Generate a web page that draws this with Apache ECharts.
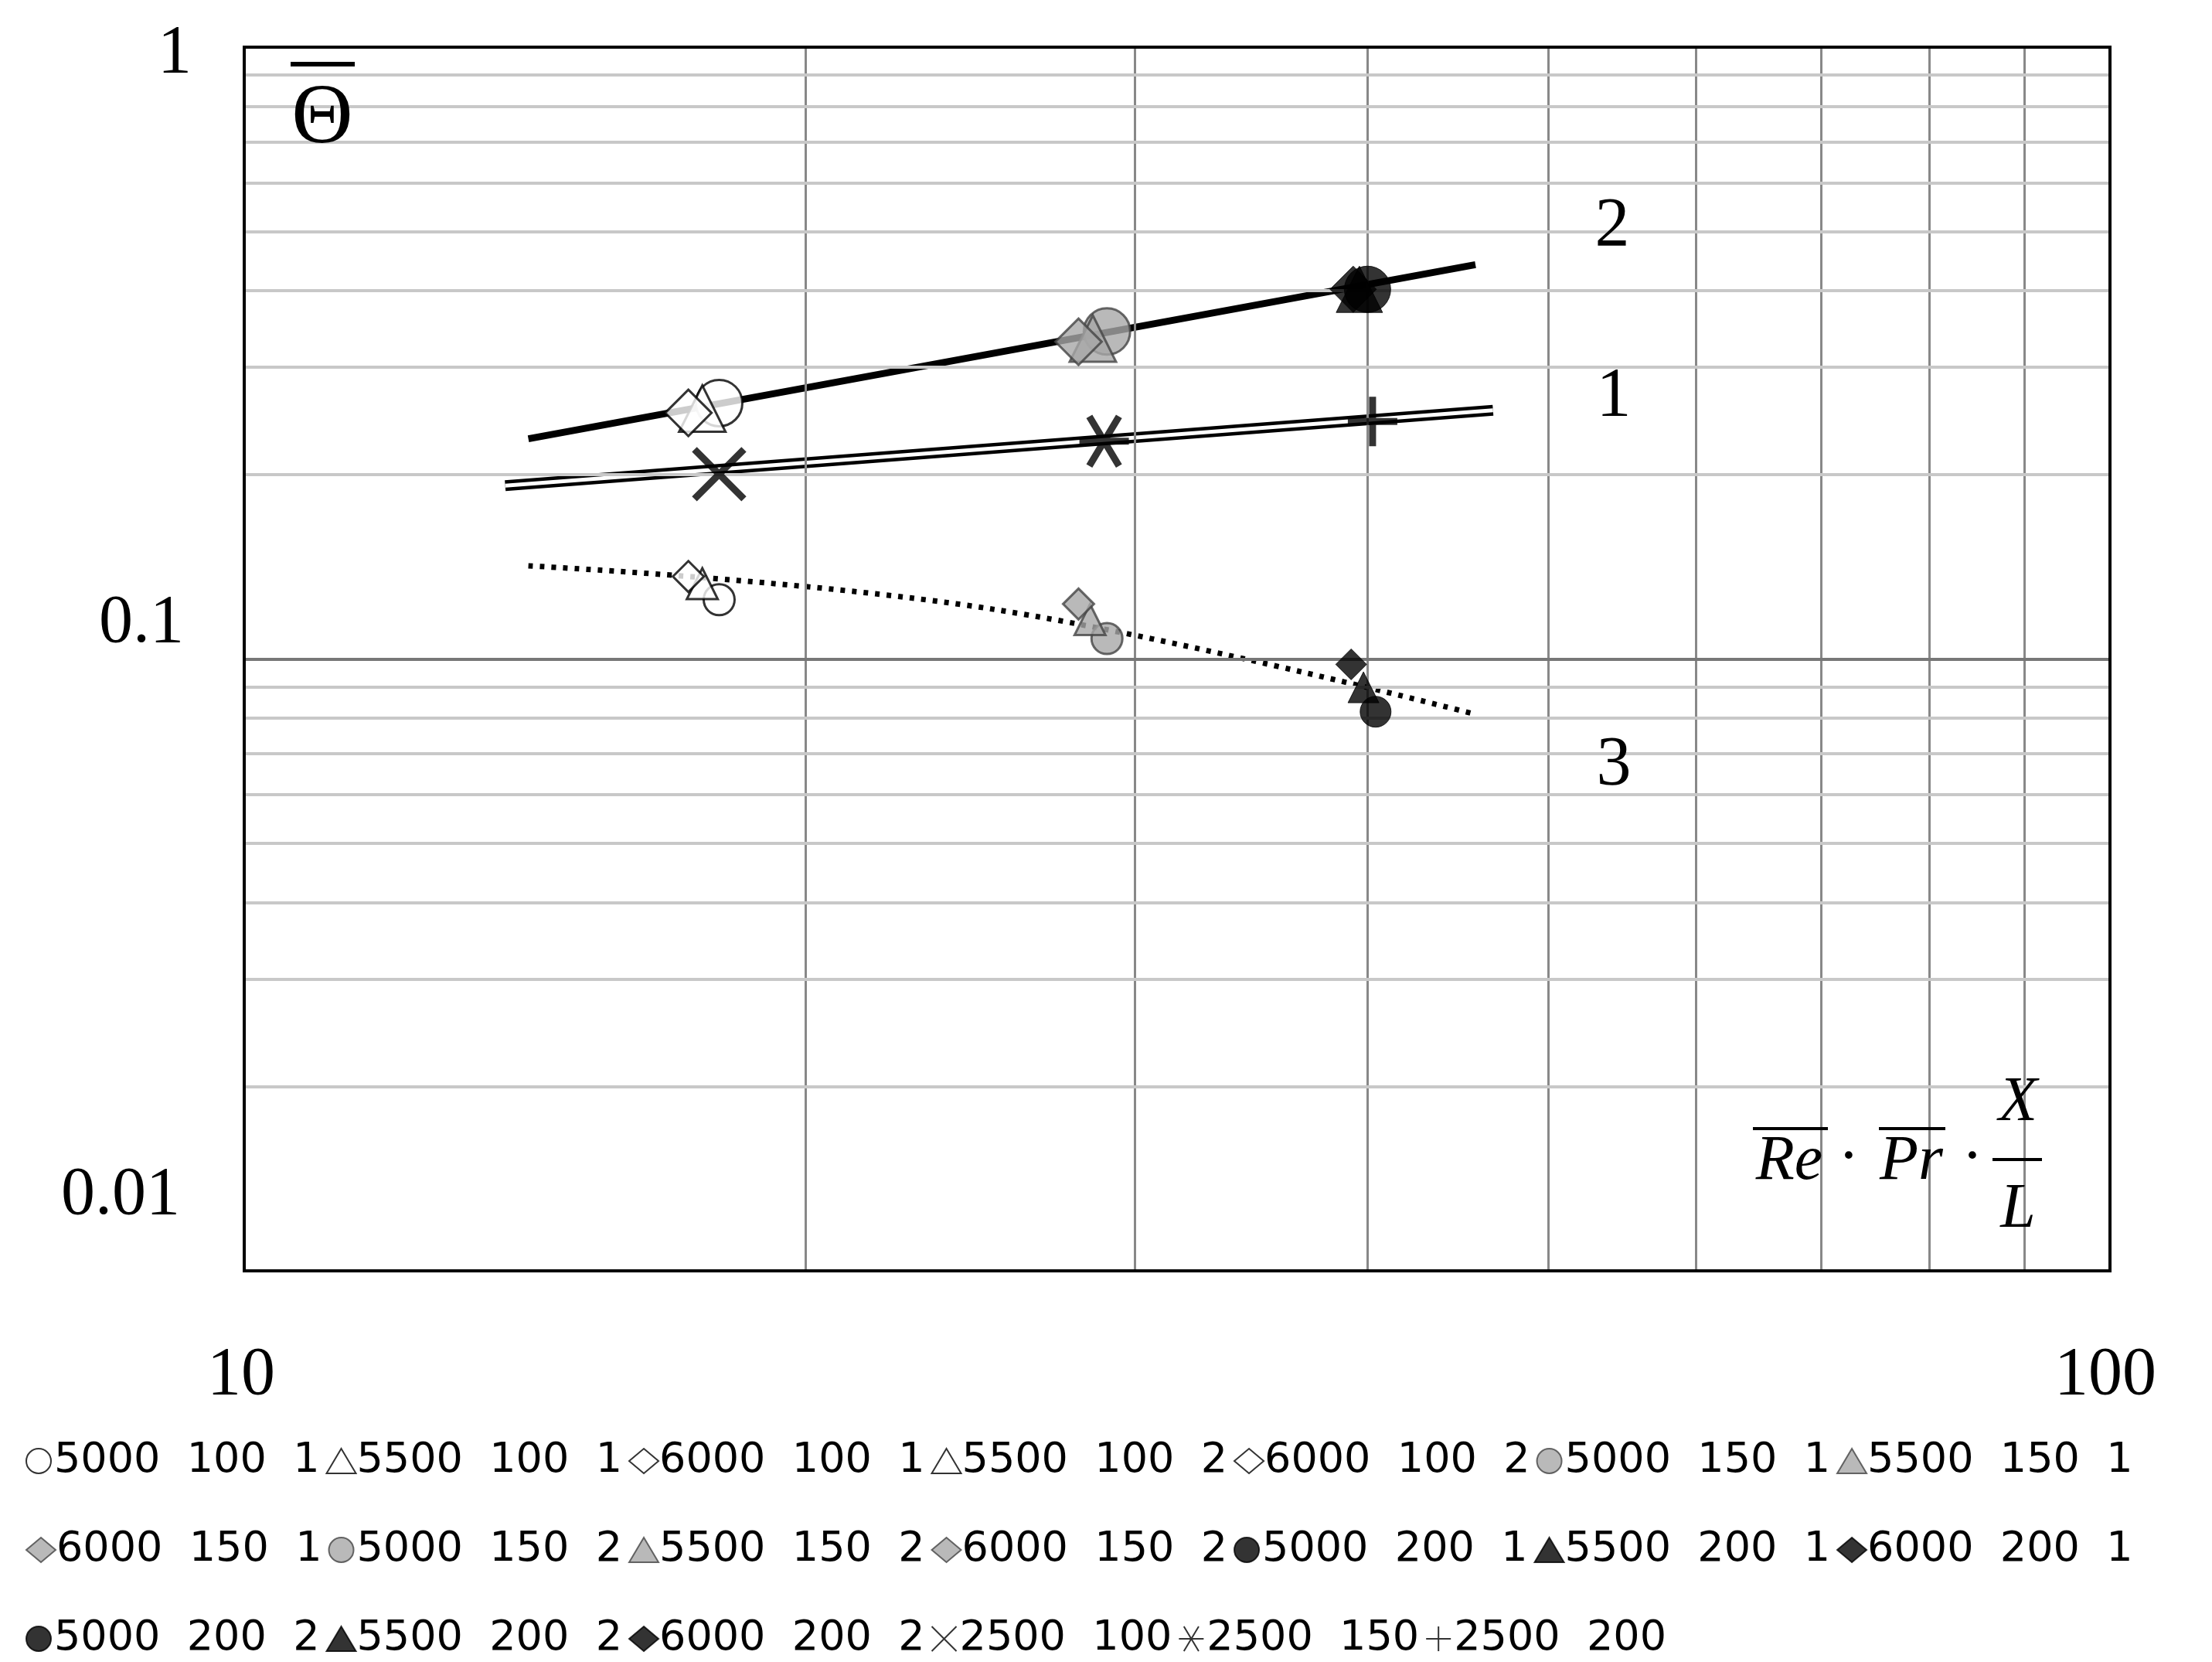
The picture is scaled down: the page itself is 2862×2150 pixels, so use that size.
<!DOCTYPE html>
<html>
<head>
<meta charset="utf-8">
<script src="https://cdn.jsdelivr.net/npm/echarts@6/dist/echarts.min.js"></script>
<style>html,body{margin:0;height:100%;background:#fff}</style>
</head>
<body>
<div id="main" style="width:2862px;height:2150px;"></div>
<script>
// data: [Re*Pr*X/L, Theta]
var s5000_100_1 = [[17.97, 0.262], [17.97, 0.125]];
var s5500_100_1 = [[17.6, 0.2566]];
var s6000_100_1 = [[17.3, 0.2525]];
var s5500_100_2 = [[17.6, 0.1328]];
var s6000_100_2 = [[17.3, 0.1364]];
var s5000_150_1 = [[29.0, 0.343]];
var s5500_150_1 = [[28.5, 0.334]];
var s6000_150_1 = [[28.0, 0.330]];
var s5000_150_2 = [[29.0, 0.108]];
var s5500_150_2 = [[28.4, 0.116]];
var s6000_150_2 = [[28.0, 0.123]];
var s5000_200_1 = [[40.0, 0.402]];
var s5500_200_1 = [[39.6, 0.402]];
var s6000_200_1 = [[39.3, 0.402]];
var s5000_200_2 = [[40.4, 0.082]];
var s5500_200_2 = [[39.8, 0.0899]];
var s6000_200_2 = [[39.2, 0.098]];
var s2500_100 = [[17.97, 0.2005]];
var s2500_150 = [[28.9, 0.227]];
var s2500_200 = [[40.25, 0.2445]];
var line2 = [[14.2, 0.229], [45.7, 0.441]];
var line1 = [[13.8, 0.192], [46.7, 0.255]];
var line3 = [[14.2, 0.142], [25.2, 0.1206], [45.7, 0.0812]];
var xGrid = [20, 30, 40, 50, 60, 70, 80, 90];
var yGrid = [0.02, 0.03, 0.04, 0.05, 0.06, 0.07, 0.08, 0.09, 0.2, 0.3, 0.4, 0.5, 0.6, 0.7, 0.8, 0.9];

var chart = echarts.init(document.getElementById('main'));
var WHITE = {color: '#fff', borderColor: '#000', borderWidth: 3};
var GREY = {color: '#a8a8a8', borderColor: '#444', borderWidth: 3};
var BLACK = {color: '#000', borderColor: '#000', borderWidth: 1};
var XS = 'path://M0,0L10,10M10,0L0,10';
var STAR = 'path://M2,0L8,10M8,0L2,10M0,5L10,5';
var PLUS = 'path://M5,0L5,10M0,5L10,5';

function pt(name, data, symbol, style) {
    return {
        name: name, type: 'scatter', data: data, symbol: symbol, itemStyle: style, z: 5,
        symbolSize: function (v) { return v[1] > 0.18 ? 60 : 40; }
    };
}
function strokeSym(name, data, symbol) {
    return {
        name: name, type: 'scatter', data: data, symbol: symbol, symbolSize: 64, z: 5,
        itemStyle: {color: 'rgba(0,0,0,0)', borderColor: '#000', borderWidth: 9}
    };
}

var series = [
    {type: 'line', data: [], silent: true, z: 1,
     markLine: {symbol: 'none', silent: true, label: {show: false},
        data: xGrid.map(function (v) { return {xAxis: v, lineStyle: {color: '#888', width: 3, type: 'solid'}}; })
          .concat(yGrid.map(function (v) { return {yAxis: v, lineStyle: {color: '#c8c8c8', width: 4, type: 'solid'}}; }))
          .concat([{yAxis: 0.1, lineStyle: {color: '#777', width: 4, type: 'solid'}}])}},
    {type: 'line', data: line2, symbol: 'none', lineStyle: {color: '#000', width: 9}, z: 3},
    {type: 'line', data: line1, symbol: 'none', lineStyle: {color: '#000', width: 14}, z: 3},
    {type: 'line', data: line1, symbol: 'none', lineStyle: {color: '#fff', width: 5}, z: 4},
    {type: 'line', data: line3, symbol: 'none', smooth: 0.4, lineStyle: {color: '#000', width: 7, type: [6, 9]}, z: 3},
    pt('5000  100  1', s5000_100_1, 'circle', WHITE),
    pt('5500  100  1', s5500_100_1, 'triangle', WHITE),
    pt('6000  100  1', s6000_100_1, 'diamond', WHITE),
    pt('5500  100  2', s5500_100_2, 'triangle', WHITE),
    pt('6000  100  2', s6000_100_2, 'diamond', WHITE),
    pt('5000  150  1', s5000_150_1, 'circle', GREY),
    pt('5500  150  1', s5500_150_1, 'triangle', GREY),
    pt('6000  150  1', s6000_150_1, 'diamond', GREY),
    pt('5000  150  2', s5000_150_2, 'circle', GREY),
    pt('5500  150  2', s5500_150_2, 'triangle', GREY),
    pt('6000  150  2', s6000_150_2, 'diamond', GREY),
    pt('5000  200  1', s5000_200_1, 'circle', BLACK),
    pt('5500  200  1', s5500_200_1, 'triangle', BLACK),
    pt('6000  200  1', s6000_200_1, 'diamond', BLACK),
    pt('5000  200  2', s5000_200_2, 'circle', BLACK),
    pt('5500  200  2', s5500_200_2, 'triangle', BLACK),
    pt('6000  200  2', s6000_200_2, 'diamond', BLACK),
    strokeSym('2500  100', s2500_100, XS),
    strokeSym('2500  150', s2500_150, STAR),
    strokeSym('2500  200', s2500_200, PLUS)
];

var names = series.filter(function (s) { return s.name; }).map(function (s) { return s.name; });
function legendRow(list, top) {
    return {
        data: list, left: 28, top: top, orient: 'horizontal', itemGap: 8,
        itemWidth: 38, itemHeight: 32, selectedMode: false,
        textStyle: {fontFamily: 'DejaVu Sans', fontSize: 54, color: '#000', width: 362, padding: [0, 0, 0, -4]}
    };
}

var serif = 'Liberation Serif';
function txt(x, y, s, size, extra) {
    var st = {text: s, fill: '#000', font: (extra || '') + ' ' + size + 'px "' + serif + '"', textAlign: 'center', textVerticalAlign: 'middle'};
    return {type: 'text', x: x, y: y, style: st, z: 10};
}
function box(x, y, w, h) {
    return {type: 'rect', shape: {x: x, y: y, width: w, height: h}, style: {fill: '#fff'}, z: 2};
}
function hline(x1, x2, y, w) {
    return {type: 'line', shape: {x1: x1, y1: y, x2: x2, y2: y}, style: {stroke: '#000', lineWidth: w || 4}, z: 10};
}

chart.setOption({
    animation: false,
    backgroundColor: '#fff',
    grid: {left: 316, top: 61, width: 2414, height: 1583},
    xAxis: {type: 'log', min: 10, max: 100, logBase: 10,
        axisLine: {show: true, onZero: false, lineStyle: {color: '#000', width: 4}},
        axisTick: {show: false}, axisLabel: {show: false},
        splitLine: {show: false}},
    yAxis: {type: 'log', min: 0.01, max: 1, logBase: 10,
        axisLine: {show: true, lineStyle: {color: '#000', width: 4}},
        axisTick: {show: false}, axisLabel: {show: false},
        splitLine: {show: false}},
    legend: [
        legendRow(names.slice(0, 7), 1858),
        legendRow(names.slice(7, 14), 1973),
        legendRow(names.slice(14, 20), 2088)
    ],
    graphic: [
        {type: 'rect', shape: {x: 316, y: 61, width: 2414, height: 1583}, style: {fill: 'none', stroke: '#000', lineWidth: 4}, z: 9},
        box(2018, 200, 120, 160), box(2018, 440, 120, 80), box(2018, 900, 120, 150),
        box(2253, 1398, 398, 213),
        txt(2086, 294, '2', 90), txt(2088, 514, '1', 90), txt(2088, 991, '3', 90),
        txt(226, 70, '1', 88), txt(183, 807, '0.1', 88), txt(156, 1547, '0.01', 88),
        txt(312, 1780, '10', 88), txt(2724, 1780, '100', 88),
        txt(417, 155, 'Θ', 110), hline(376, 459, 83, 6),
        txt(2315, 1503, 'Re', 82, 'italic'), hline(2268, 2365, 1460),
        txt(2392, 1500, '·', 82),
        txt(2473, 1503, 'Pr', 82, 'italic'), hline(2431, 2517, 1460),
        txt(2552, 1500, '·', 82),
        txt(2611, 1427, 'X', 82, 'italic'), hline(2578, 2642, 1500),
        txt(2611, 1565, 'L', 82, 'italic')
    ],
    series: series
});
</script>
</body>
</html>
